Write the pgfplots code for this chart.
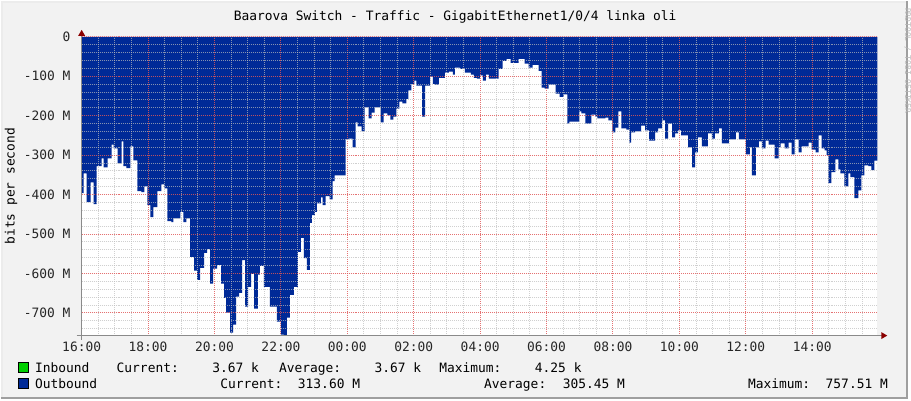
\documentclass[border=0pt]{standalone}
\usepackage{pgfplots}
\pgfplotsset{compat=1.18}
\usepackage{pgfplotstable}
\usepackage{fontspec}
\setmainfont{DejaVu Sans Mono}
\definecolor{outblue}{HTML}{002A97}
\definecolor{ingreen}{HTML}{00CF00}
\definecolor{bgback}{HTML}{F2F2F2}
\definecolor{mgrid}{HTML}{FF0000}
\definecolor{mingrid}{HTML}{BDBDBD}
\definecolor{arrowred}{HTML}{8B0000}
\definecolor{axgray}{HTML}{8A8A8A}

\pgfplotstableread{
h v
0.00 -396
0.06 -346
0.15 -419
0.27 -369
0.36 -424
0.45 -328
0.60 -308
0.66 -331
0.78 -308
0.90 -273
0.96 -283
1.08 -321
1.20 -265
1.26 -328
1.35 -333
1.47 -278
1.56 -313
1.68 -391
1.80 -394
1.89 -379
1.98 -427
2.07 -457
2.16 -432
2.28 -391
2.40 -374
2.49 -384
2.58 -467
2.70 -470
2.76 -460
2.88 -460
2.97 -444
3.06 -470
3.15 -460
3.27 -558
3.39 -593
3.48 -616
3.57 -586
3.69 -548
3.78 -538
3.87 -626
3.96 -588
4.08 -578
4.20 -626
4.29 -662
4.35 -699
4.47 -750
4.56 -730
4.65 -659
4.74 -649
4.83 -566
4.92 -684
5.01 -634
5.10 -601
5.19 -689
5.31 -603
5.37 -581
5.49 -634
5.67 -684
5.88 -722
6.00 -755
6.09 -757.5
6.18 -712
6.27 -654
6.39 -634
6.51 -545
6.60 -510
6.69 -561
6.78 -591
6.87 -472
6.93 -452
7.02 -444
7.08 -422
7.20 -407
7.26 -427
7.35 -404
7.47 -412
7.56 -366
7.62 -351
7.95 -260
8.04 -258
8.16 -280
8.25 -217
8.31 -227
8.43 -240
8.52 -179
8.64 -207
8.73 -192
8.82 -179
9.00 -217
9.09 -194
9.21 -199
9.30 -210
9.39 -202
9.48 -182
9.57 -164
9.66 -169
9.78 -157
9.84 -136
9.93 -119
10.02 -111
10.08 -124
10.25 -202
10.34 -124
10.49 -101
10.58 -119
10.64 -121
10.76 -104
10.94 -91
11.06 -88
11.18 -96
11.24 -78
11.39 -81
11.54 -91
11.72 -96
11.81 -104
11.90 -106
11.99 -98
12.08 -111
12.17 -96
12.26 -106
12.56 -81
12.68 -61
12.80 -56
12.92 -66
13.16 -56
13.34 -68
13.46 -78
13.58 -71
13.76 -86
13.85 -129
13.94 -131
14.06 -121
14.27 -144
14.39 -152
14.51 -146
14.63 -220
14.69 -215
14.99 -189
15.05 -194
15.17 -220
15.35 -197
15.47 -202
15.53 -207
15.77 -205
15.86 -212
15.98 -242
16.07 -230
16.16 -189
16.25 -232
16.40 -235
16.49 -268
16.55 -242
16.67 -240
16.85 -225
16.97 -237
17.09 -263
17.27 -242
17.36 -232
17.48 -212
17.57 -258
17.66 -220
17.78 -255
17.87 -245
17.96 -237
18.05 -250
18.26 -280
18.38 -331
18.47 -293
18.56 -255
18.68 -278
18.86 -245
18.98 -258
19.07 -245
19.19 -232
19.28 -270
19.49 -260
19.70 -242
19.79 -260
20.00 -298
20.12 -280
20.18 -351
20.30 -280
20.39 -265
20.48 -283
20.60 -263
20.69 -273
20.87 -308
20.99 -280
21.05 -270
21.17 -283
21.29 -268
21.38 -298
21.47 -260
21.59 -293
21.68 -278
21.89 -268
21.98 -286
22.10 -293
22.19 -250
22.28 -283
22.37 -288
22.43 -300
22.49 -371
22.58 -343
22.70 -311
22.79 -336
22.85 -346
22.97 -379
23.09 -346
23.15 -356
23.27 -409
23.39 -389
23.48 -351
23.57 -326
23.69 -328
23.78 -338
23.87 -314
23.96 -314
}\outdata

\begin{document}
\begin{tikzpicture}[x=1bp,y=1bp]
\fill[bgback] (0,0) rectangle (911,400);
\draw[line width=2bp, white!85!gray] (1,0) -- (1,399) -- (911,399);
\draw[line width=2bp, gray!75] (0,1) -- (910,1) -- (910,400);
\begin{axis}[
  at={(81bp,64bp)}, anchor=south west,
  width=799bp, height=300bp, scale only axis,
  xmin=0, xmax=23.96, ymin=-757.51, ymax=0,
  axis background/.style={fill=white},
  axis line style={draw=none},
  tick style={draw=none},
  xtick={0,2,...,22},
  xticklabels={16:00,18:00,20:00,22:00,00:00,02:00,04:00,06:00,08:00,10:00,12:00,14:00},
  minor xtick={0.5,1,...,23.5},
  ytick={-700,-600,-500,-400,-300,-200,-100,0},
  yticklabels={-700 M,-600 M,-500 M,-400 M,-300 M,-200 M,-100 M,0},
  minor ytick={-740,-720,...,-20},
  grid=both,
  major grid style={mgrid, opacity=0.45, line width=1bp, dash pattern=on 1bp off 1bp},
  minor grid style={mingrid, opacity=0.7, line width=1bp, dash pattern=on 1bp off 1bp},
  axis on top,
  ticklabel style={font=\fontsize{13}{15}\selectfont, text=black!85},
  yticklabel style={anchor=east, inner sep=0pt, xshift=-11bp},
  xticklabel style={anchor=north, inner sep=0pt, yshift=-6bp},
]
\addplot[draw=none, fill=outblue, const plot] table[x=h, y=v]{\outdata} \closedcycle;
\end{axis}
% axis lines and arrows
\draw[axgray, line width=1bp] (76,64) -- (885,64);
\draw[axgray, line width=1bp] (81,60) -- (81,367);
\fill[arrowred] (884,60.5) -- (890,64) -- (884,67.5) -- cycle;
\fill[arrowred] (77.5,365) -- (81,371) -- (84.5,365) -- cycle;
% title
\node[anchor=base, inner sep=0pt, font=\fontsize{13}{15}\selectfont] at (456,380.5) {Baarova Switch - Traffic - GigabitEthernet1/0/4 linka oli};
% y label
\node[rotate=90, inner sep=0pt, font=\fontsize{13}{15}\selectfont] at (10,214) {bits per second};
% watermark
\node[rotate=-90, anchor=south west, inner sep=0pt, font=\fontsize{8}{9}\selectfont, text=gray!55] at (907,393) {RRDTOOL / TOBI OETIKER};
% legend
\begin{scope}[every node/.style={anchor=base west, inner sep=0pt, font=\fontsize{13}{15}\selectfont}]
\filldraw[fill=ingreen, draw=black, line width=0.8bp] (17.5,27) rectangle (27.5,37);
\node at (34,27) {Inbound};
\node at (116,27) {Current:};
\node at (212,27) {3.67 k};
\node at (279,27) {Average:};
\node at (375,27) {3.67 k};
\node at (440,27) {Maximum:};
\node at (536,27) {4.25 k};
\filldraw[fill=outblue, draw=black, line width=0.8bp] (17.5,11) rectangle (27.5,21);
\node at (34,11) {Outbound};
\node at (220,11) {Current:};
\node at (298,11) {313.60 M};
\node at (485,11) {Average:};
\node at (564,11) {305.45 M};
\node at (750,11) {Maximum:};
\node at (828,11) {757.51 M};
\end{scope}
\end{tikzpicture}
\end{document}
